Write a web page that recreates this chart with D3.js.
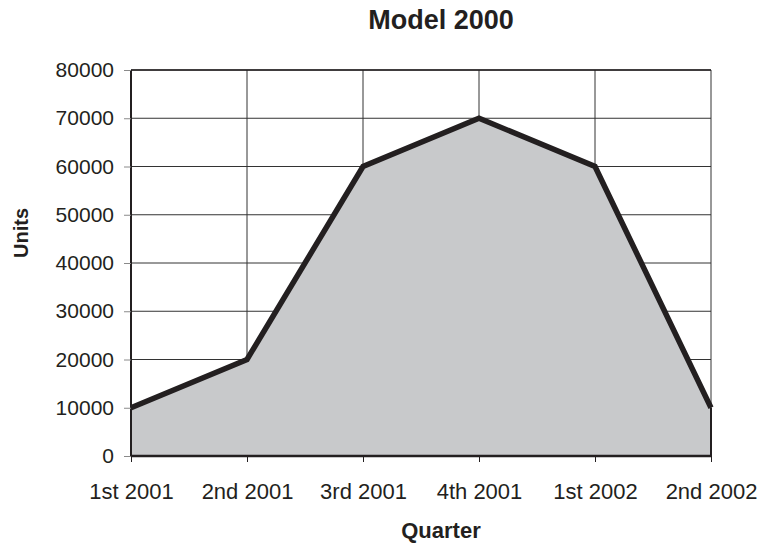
<!DOCTYPE html>
<html>
<head>
<meta charset="utf-8">
<script src="https://cdn.jsdelivr.net/npm/d3@7"></script>
<style>
  body { margin: 0; background: #fff; }
  text { font-family: "Liberation Sans", Arial, sans-serif; fill: #231f20; }
  .ttl { font-weight: bold; }
</style>
</head>
<body>
<svg id="chart" width="769" height="546"></svg>
<script>
var quarters = ["1st 2001", "2nd 2001", "3rd 2001", "4th 2001", "1st 2002", "2nd 2002"];
var units = [10000, 20000, 60000, 70000, 60000, 10000];
var yTicks = [0, 10000, 20000, 30000, 40000, 50000, 60000, 70000, 80000];

var plotLeft = 131, plotRight = 711, plotTop = 70, plotBottom = 456;

var svg = d3.select("#chart");

var x = d3.scalePoint().domain(quarters).range([plotLeft, plotRight]);
var y = d3.scaleLinear().domain([0, 80000]).range([plotBottom, plotTop]);

// grid
svg.append("g").selectAll("line")
    .data(yTicks).enter().append("line")
    .attr("x1", plotLeft).attr("x2", plotRight)
    .attr("y1", function(d) { return y(d); })
    .attr("y2", function(d) { return y(d); })
    .attr("stroke", "#333").attr("stroke-width", 1);

svg.append("g").selectAll("line")
    .data(quarters).enter().append("line")
    .attr("x1", function(d) { return x(d); })
    .attr("x2", function(d) { return x(d); })
    .attr("y1", plotTop).attr("y2", plotBottom)
    .attr("stroke", "#333").attr("stroke-width", 1);

// area
var area = d3.area()
    .x(function(d, i) { return x(quarters[i]); })
    .y0(y(0))
    .y1(function(d) { return y(d); });

svg.append("path")
    .datum(units)
    .attr("d", area)
    .attr("fill", "#c8c9cb");

// frame edges
svg.append("line").attr("x1", plotLeft).attr("x2", plotLeft)
    .attr("y1", plotTop).attr("y2", plotBottom)
    .attr("stroke", "#231f20").attr("stroke-width", 2);
svg.append("line").attr("x1", plotRight).attr("x2", plotRight)
    .attr("y1", y(units[units.length - 1])).attr("y2", plotBottom)
    .attr("stroke", "#231f20").attr("stroke-width", 2);
svg.append("line").attr("x1", plotLeft).attr("x2", plotRight)
    .attr("y1", plotBottom).attr("y2", plotBottom)
    .attr("stroke", "#231f20").attr("stroke-width", 2.5);
svg.append("line").attr("x1", plotLeft).attr("x2", plotRight)
    .attr("y1", plotTop).attr("y2", plotTop)
    .attr("stroke", "#231f20").attr("stroke-width", 1.5);

var line = d3.line()
    .x(function(d, i) { return x(quarters[i]); })
    .y(function(d) { return y(d); });

svg.append("path")
    .datum(units)
    .attr("d", line)
    .attr("fill", "none")
    .attr("stroke", "#231f20")
    .attr("stroke-width", 5.5)
    .attr("stroke-linejoin", "miter");

// axes
var yAxis = d3.axisLeft(y).tickValues(yTicks).tickSize(7).tickPadding(10).tickFormat(d3.format("d"));
var gy = svg.append("g").attr("transform", "translate(" + plotLeft + ",0)").call(yAxis);
gy.select(".domain").remove();
gy.selectAll(".tick line").attr("stroke", "#8a8a8a");
gy.selectAll("text").attr("font-size", 21).attr("fill", "#231f20").attr("font-family", "Liberation Sans, Arial, sans-serif");

var xAxis = d3.axisBottom(x).tickSize(6).tickPadding(21);
var gx = svg.append("g").attr("transform", "translate(0," + plotBottom + ")").call(xAxis);
gx.select(".domain").remove();
gx.selectAll(".tick line").attr("stroke", "#231f20");
gx.selectAll("text").attr("font-size", 22).attr("fill", "#231f20").attr("font-family", "Liberation Sans, Arial, sans-serif");

// titles
svg.append("text").attr("class", "ttl").attr("x", 441).attr("y", 29)
    .attr("text-anchor", "middle").attr("font-size", 27)
    .text("Model 2000");
svg.append("text").attr("class", "ttl").attr("x", 441).attr("y", 538)
    .attr("text-anchor", "middle").attr("font-size", 22)
    .text("Quarter");
svg.append("text").attr("class", "ttl").attr("transform", "translate(28,233) rotate(-90)")
    .attr("text-anchor", "middle").attr("font-size", 20)
    .text("Units");
</script>
</body>
</html>
